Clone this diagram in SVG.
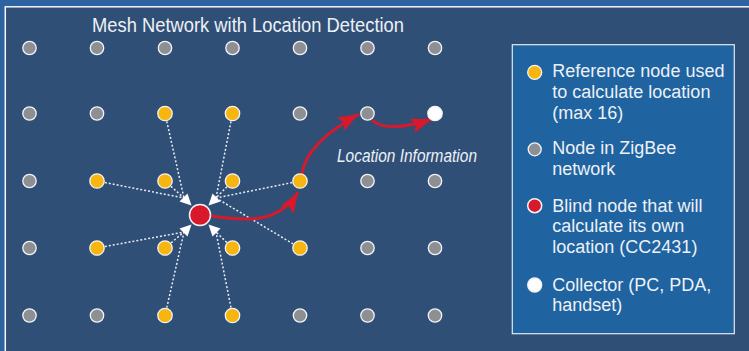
<svg xmlns="http://www.w3.org/2000/svg" width="749" height="351" viewBox="0 0 749 351">
<style>
.g{fill:#8e8f93;stroke:#f2f4f7;stroke-width:1.3}
.y{fill:#f6b60f;stroke:#f2f4f7;stroke-width:1.3}
.w{fill:#ffffff;stroke:#f2f4f7;stroke-width:1.3}
.r{fill:#d8192b;stroke:#f2f4f7;stroke-width:1.5}
.dot{stroke:#e9eef5;stroke-width:1.5;stroke-dasharray:2 2;fill:none}
.ah{fill:#ffffff}
.red{stroke:#d8192b;stroke-width:3;fill:none;marker-end:url(#ra)}
.t{font-family:"Liberation Sans",Arial,sans-serif;fill:#edf1f6}
.lg{font-size:18px}
</style>
<defs>
<marker id="ra" markerWidth="8" markerHeight="6" refX="7" refY="2.5" orient="auto" markerUnits="strokeWidth">
<path d="M0,0 L7,2.5 L0,5 L1.3,2.5 z" fill="#d8192b"/>
</marker>
</defs>
<rect x="0" y="0" width="749" height="351" fill="#2c63a0"/>
<rect x="5.3" y="6.8" width="760" height="360" fill="#304f77" stroke="#f4f6f9" stroke-width="1.5"/>
<text class="t" x="92" y="32.3" font-size="20.5" textLength="312" lengthAdjust="spacingAndGlyphs">Mesh Network with Location Detection</text>

<g id="connectors">
<path class="dot" d="M165,113.5 L184,198 M97,181 L184,198 M165,181 L184,198"/>
<path class="dot" d="M232.5,113.5 L216,198 M300,181 L216,198 M232.5,181 L216,198 M300,248 L216,198"/>
<path class="dot" d="M97,248 L184,232 M165,248 L184,232 M165,315.5 L184,232"/>
<path class="dot" d="M232.5,248 L216,232 M232.5,315.5 L216,232"/>
<polygon class="ah" points="191.5,205.5 179.5,201.5 187.5,193.5"/>
<polygon class="ah" points="208.5,205.5 220.5,201.5 212.5,193.5"/>
<polygon class="ah" points="191.5,224.5 179.5,228.5 187.5,236.5"/>
<polygon class="ah" points="208.5,224.5 220.5,228.5 212.5,236.5"/>
<path class="red" d="M211,216 C250,222 280,222 298,192"/>
<path class="red" d="M302,174 C305,150 330,130 359,114"/>
<path class="red" d="M372,120 C380,128 400,130 432,119"/>
</g>

<g id="row1">
<circle class="g" cx="29.5" cy="48" r="6.7"/>
<circle class="g" cx="97" cy="48" r="6.7"/>
<circle class="g" cx="165" cy="48" r="6.7"/>
<circle class="g" cx="232.5" cy="48" r="6.7"/>
<circle class="g" cx="300" cy="48" r="6.7"/>
<circle class="g" cx="367.5" cy="48" r="6.7"/>
<circle class="g" cx="435" cy="48" r="6.7"/>
</g>
<g id="row2">
<circle class="g" cx="29.5" cy="113.5" r="6.7"/>
<circle class="g" cx="97" cy="113.5" r="6.7"/>
<circle class="y" cx="165" cy="113.5" r="7.2"/>
<circle class="y" cx="232.5" cy="113.5" r="7.2"/>
<circle class="g" cx="300" cy="113.5" r="6.7"/>
<circle class="g" cx="367.5" cy="113.5" r="6.7"/>
<circle id="collector" class="w" cx="435" cy="113.5" r="7.2"/>
</g>
<g id="row3">
<circle class="g" cx="29.5" cy="181" r="6.7"/>
<circle class="y" cx="97" cy="181" r="7.2"/>
<circle class="y" cx="165" cy="181" r="7.2"/>
<circle class="y" cx="232.5" cy="181" r="7.2"/>
<circle class="y" cx="300" cy="181" r="7.2"/>
<circle class="g" cx="367.5" cy="181" r="6.7"/>
<circle class="g" cx="435" cy="181" r="6.7"/>
</g>
<g id="row4">
<circle class="g" cx="29.5" cy="248" r="6.7"/>
<circle class="y" cx="97" cy="248" r="7.2"/>
<circle class="y" cx="165" cy="248" r="7.2"/>
<circle class="y" cx="232.5" cy="248" r="7.2"/>
<circle class="y" cx="300" cy="248" r="7.2"/>
<circle class="g" cx="367.5" cy="248" r="6.7"/>
<circle class="g" cx="435" cy="248" r="6.7"/>
</g>
<g id="row5">
<circle class="g" cx="29.5" cy="315.5" r="6.7"/>
<circle class="g" cx="97" cy="315.5" r="6.7"/>
<circle class="y" cx="165" cy="315.5" r="7.2"/>
<circle class="y" cx="232.5" cy="315.5" r="7.2"/>
<circle class="g" cx="300" cy="315.5" r="6.7"/>
<circle class="g" cx="367.5" cy="315.5" r="6.7"/>
<circle class="g" cx="435" cy="315.5" r="6.7"/>
</g>
<g id="blind-node">
<circle class="r" cx="200" cy="215" r="10.5"/>
</g>
<text class="t" x="337" y="162.3" font-size="18" font-style="italic" textLength="140" lengthAdjust="spacingAndGlyphs">Location Information</text>

<g id="legend">
<rect x="512.3" y="44.7" width="222" height="289" fill="#1f63a1" stroke="#e3e9f1" stroke-width="1.2"/>
<circle class="y" cx="534.7" cy="72.3" r="7" stroke-width="0"/>
<text class="t lg" x="552.3" y="77.3">Reference node used</text>
<text class="t lg" x="552.3" y="98.2">to calculate location</text>
<text class="t lg" x="552.3" y="119">(max 16)</text>
<circle class="g" cx="534.7" cy="149.3" r="6.5" fill="#a3a5aa"/>
<text class="t lg" x="552.3" y="154.3">Node in ZigBee</text>
<text class="t lg" x="552.3" y="175">network</text>
<circle class="r" cx="534.7" cy="205.7" r="7" stroke-width="0"/>
<text class="t lg" x="552.3" y="211.7">Blind node that will</text>
<text class="t lg" x="552.3" y="232.4">calculate its own</text>
<text class="t lg" x="552.3" y="253.3">location (CC2431)</text>
<circle class="w" cx="534.7" cy="285" r="7" stroke-width="0"/>
<text class="t lg" x="552.3" y="290.7">Collector (PC, PDA,</text>
<text class="t lg" x="552.3" y="311.3">handset)</text>
</g>
</svg>
